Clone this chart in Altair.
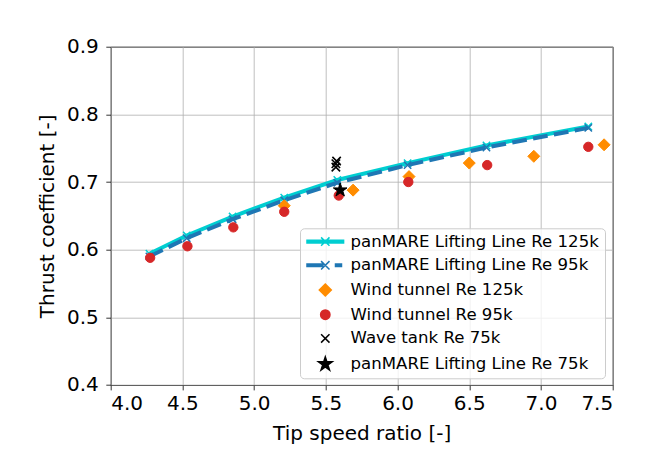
import math
import altair as alt
import pandas as pd

# ---------------- data ----------------
tsr_ll = [4.27, 4.53, 4.85, 5.21, 5.58, 6.07, 6.62, 7.33]
ct_ll_125 = [0.594, 0.621, 0.649, 0.677, 0.703, 0.728, 0.754, 0.782]
ct_ll_95 = [0.590, 0.617, 0.645, 0.673, 0.699, 0.725, 0.751, 0.780]

tsr_wt_125 = [5.21, 5.69, 6.08, 6.50, 6.95, 7.44]
ct_wt_125 = [0.665, 0.688, 0.708, 0.728, 0.738, 0.755]

tsr_wt_95 = [4.275, 4.535, 4.855, 5.21, 5.59, 6.075, 6.625, 7.33]
ct_wt_95 = [0.588, 0.605, 0.633, 0.656, 0.680, 0.700, 0.725, 0.752]

tsr_tank = [5.57, 5.57, 5.575]
ct_tank = [0.722, 0.727, 0.731]

tsr_ll75 = [5.60]
ct_ll75 = [0.688]

series_names = [
    "panMARE Lifting Line Re 125k",
    "panMARE Lifting Line Re 95k",
    "Wind tunnel Re 125k",
    "Wind tunnel Re 95k",
    "Wave tank Re 75k",
    "panMARE Lifting Line Re 75k",
]
series_colors = ["#00ced1", "#1f77b4", "#ff8c00", "#d62728", "#000000", "#000000"]

x_ticks = [4.0, 4.5, 5.0, 5.5, 6.0, 6.5, 7.0, 7.5]
y_ticks = [0.4, 0.5, 0.6, 0.7, 0.8, 0.9]

# ---------------- table ----------------
rows = []
for name, xs, ys in [
    (series_names[0], tsr_ll, ct_ll_125),
    (series_names[1], tsr_ll, ct_ll_95),
    (series_names[2], tsr_wt_125, ct_wt_125),
    (series_names[3], tsr_wt_95, ct_wt_95),
    (series_names[4], tsr_tank, ct_tank),
    (series_names[5], tsr_ll75, ct_ll75),
]:
    for xv, yv in zip(xs, ys):
        rows.append({"series": name, "x": xv, "y": yv})
df = pd.DataFrame(rows)

# ---------------- marker shapes (unit = sqrt(size)/2 px) ----------------
def star_path(R=1.2, r=0.46):
    pts = []
    for i in range(10):
        rad = R if i % 2 == 0 else r
        a = -math.pi / 2 + i * math.pi / 5
        pts.append((rad * math.cos(a), rad * math.sin(a)))
    return "M" + "L".join(f"{px:.3f},{py:.3f}" for px, py in pts) + "Z"

X_PATH = "M-0.7,-0.7L0.7,0.7M-0.7,0.7L0.7,-0.7"
DIAMOND = "M0,-1L1,0L0,1L-1,0Z"
CIRCLE = "M0.78,0A0.78,0.78 0 1,1 -0.78,0A0.78,0.78 0 1,1 0.78,0Z"
LINE_SOLID = "M-3.05,-0.22H3.05V0.22H-3.05Z" + X_PATH
LINE_DASH = "M-3.05,-0.22H-0.4V0.22H-3.05Z" + "M1.7,-0.22H2.7V0.22H1.7Z" + X_PATH
shape_range = [LINE_SOLID, LINE_DASH, DIAMOND, CIRCLE, X_PATH, star_path()]

# ---------------- encodings ----------------
x_enc = alt.X(
    "x:Q",
    scale=alt.Scale(domain=[4.0, 7.5], nice=False, zero=False),
    axis=alt.Axis(values=x_ticks, format=".1f", title="Tip speed ratio [-]"),
)
y_enc = alt.Y(
    "y:Q",
    scale=alt.Scale(domain=[0.4, 0.9], nice=False, zero=False),
    axis=alt.Axis(values=y_ticks, format=".1f", title="Thrust coefficient [-]"),
)

legend = alt.Legend(
    orient="none",
    legendX=189.3,
    legendY=181.6,
    title=None,
    direction="vertical",
)
shape_enc = alt.Shape("series:N", scale=alt.Scale(domain=series_names, range=shape_range), legend=legend)
fill_enc = alt.Fill("series:N", scale=alt.Scale(domain=series_names, range=series_colors), legend=legend)
stroke_enc = alt.Stroke("series:N", scale=alt.Scale(domain=series_names, range=series_colors), legend=legend)

layers = []
# lines
layers.append(
    alt.Chart(df).transform_filter(alt.datum.series == series_names[0])
    .mark_line(color=series_colors[0], strokeWidth=4)
    .encode(x=x_enc, y=y_enc)
)
layers.append(
    alt.Chart(df).transform_filter(alt.datum.series == series_names[0])
    .mark_point(shape=X_PATH, size=110, strokeWidth=1.5, color=series_colors[0], filled=False, opacity=1)
    .encode(x=x_enc, y=y_enc)
)
layers.append(
    alt.Chart(df).transform_filter(alt.datum.series == series_names[1])
    .mark_line(color=series_colors[1], strokeWidth=4, strokeDash=[14.8, 6.4])
    .encode(x=x_enc, y=y_enc)
)
layers.append(
    alt.Chart(df).transform_filter(alt.datum.series == series_names[1])
    .mark_point(shape=X_PATH, size=110, strokeWidth=1.5, color=series_colors[1], filled=False, opacity=1)
    .encode(x=x_enc, y=y_enc)
)
# scatter series
for name, sw in zip(series_names[2:], [1.0, 1.0, 1.6, 1.0]):
    layers.append(
        alt.Chart(df).transform_filter(alt.datum.series == name)
        .mark_point(filled=True, size=144, strokeWidth=sw, opacity=1)
        .encode(x=x_enc, y=y_enc, shape=shape_enc, fill=fill_enc, stroke=stroke_enc)
    )

FONT = "DejaVu Sans"
chart = (
    alt.layer(*layers)
    .properties(
        width=502,
        height=338.3,
        autosize=alt.AutoSizeParams(type="none"),
        padding={"left": 102.7, "top": 38.7, "right": 30, "bottom": 80},
        background="white",
    )
    .configure_view(stroke="black", strokeWidth=1)
    .configure_axis(
        grid=True,
        gridColor="#b0b0b0",
        gridWidth=0.8,
        domain=False,
        ticks=True,
        tickColor="black",
        tickWidth=0.8,
        tickSize=4.9,
        labelFont=FONT,
        labelFontSize=20,
        labelColor="black",
        titleFont=FONT,
        titleFontSize=20,
        titleFontWeight="normal",
        titleColor="black",
    )
    .configure_axisX(labelPadding=3.5, titlePadding=10)
    .configure_axisY(labelPadding=7.5, titlePadding=9)
    .configure_legend(
        labelFont=FONT,
        labelFontSize=16.6,
        labelColor="black",
        labelLimit=400,
        symbolSize=144,
        symbolStrokeWidth=1.5,
        padding=5,
        rowPadding=6.7,
        symbolOffset=12,
        labelOffset=17,
        fillColor="rgba(255,255,255,0.8)",
        strokeColor="#cccccc",
        cornerRadius=4,
        symbolLimit=0,
    )
)

chart.save("out.html", embed_options={"renderer": "svg", "actions": False})
